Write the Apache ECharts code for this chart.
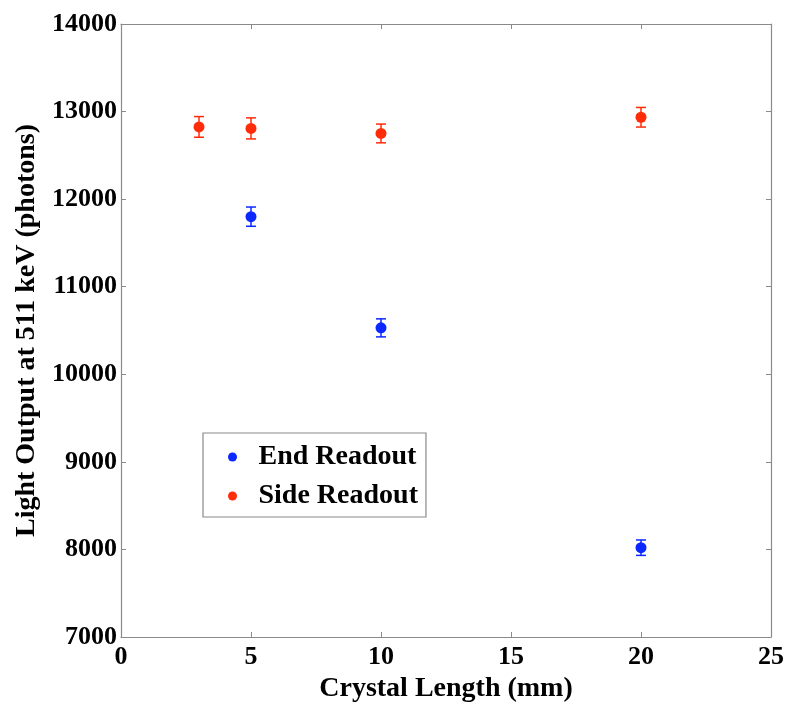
<!DOCTYPE html>
<html>
<head>
<meta charset="utf-8">
<title>Light Output</title>
<script src="https://cdn.jsdelivr.net/npm/echarts@6/dist/echarts.min.js"></script>
<style>
html, body { margin: 0; padding: 0; background: #fff; }
#chart { width: 800px; height: 715px; }
</style>
</head>
<body>
<div id="chart"></div>
<script>
// crystal length (mm)
const endLength = [5, 10, 20];
const endLight = [11800, 10530, 8020];
const endErr = [110, 103, 88];

const sideLength = [3, 5, 10, 20];
const sideLight = [12825, 12808, 12750, 12935];
const sideErr = [118, 120, 107, 112];

const BLUE = '#0a28ff';
const RED = '#ff2c0a';
const FONT = '"Liberation Serif", "Times New Roman", serif';

function pts(xs, ys) {
	return xs.map((x, i) => [x, ys[i]]);
}
function bars(xs, ys, es) {
	return xs.map((x, i) => [x, ys[i] - es[i], ys[i] + es[i]]);
}

// error bar with caps
function errorBar(color) {
	return function (params, api) {
		let x = api.value(0);
		let lo = api.coord([x, api.value(1)]);
		let hi = api.coord([x, api.value(2)]);
		let w = 5;
		let style = { stroke: color, lineWidth: 1.5 };
		return {
			type: 'group',
			children: [
				{ type: 'line', shape: { x1: lo[0], y1: lo[1], x2: hi[0], y2: hi[1] }, style: style },
				{ type: 'line', shape: { x1: lo[0] - w, y1: lo[1], x2: lo[0] + w, y2: lo[1] }, style: style },
				{ type: 'line', shape: { x1: hi[0] - w, y1: hi[1], x2: hi[0] + w, y2: hi[1] }, style: style }
			]
		};
	};
}

const chart = echarts.init(document.getElementById('chart'));

const axisCommon = {
	type: 'value',
	axisLine: { show: true, onZero: false, lineStyle: { color: '#8a8a8a', width: 1.2 } },
	axisTick: { show: true, inside: true, length: 5, lineStyle: { color: '#8a8a8a' } },
	splitLine: { show: false }
};
const tickFont = { fontFamily: FONT, fontWeight: 'bold', fontSize: 26, color: '#000' };
const nameFont = { fontFamily: FONT, fontWeight: 'bold', fontSize: 28, color: '#000' };

const option = {
	animation: false,
	backgroundColor: '#fff',
	grid: { left: 121, right: 29, top: 24, bottom: 78 },
	legend: {
		orient: 'vertical',
		left: 203,
		top: 433,
		data: ['End Readout', 'Side Readout'],
		icon: 'circle',
		itemWidth: 42,
		itemHeight: 9,
		itemGap: 11,
		padding: [10, 8, 7, 25],
		borderColor: '#8a8a8a',
		borderWidth: 1.2,
		backgroundColor: '#fff',
		textStyle: nameFont
	},
	xAxis: [
		Object.assign({}, axisCommon, {
			min: 0, max: 25, interval: 5,
			position: 'bottom',
			name: 'Crystal Length (mm)',
			nameLocation: 'middle',
			nameGap: 30,
			nameTextStyle: nameFont,
			axisLabel: Object.assign({ margin: 7 }, tickFont)
		}),
		Object.assign({}, axisCommon, {
			min: 0, max: 25, interval: 5,
			position: 'top',
			axisLabel: { show: false }
		})
	],
	yAxis: [
		Object.assign({}, axisCommon, {
			min: 7000, max: 14000, interval: 1000,
			position: 'left',
			name: 'Light Output at 511 keV (photons)',
			nameLocation: 'middle',
			nameGap: 78,
			nameTextStyle: nameFont,
			axisLabel: Object.assign({ margin: 4, formatter: (v) => String(v) }, tickFont)
		}),
		Object.assign({}, axisCommon, {
			min: 7000, max: 14000, interval: 1000,
			position: 'right',
			axisLabel: { show: false }
		})
	],
	series: [
		{
			name: 'End Readout err',
			type: 'custom',
			renderItem: errorBar(BLUE),
			encode: { x: 0, y: [1, 2] },
			data: bars(endLength, endLight, endErr),
			z: 2
		},
		{
			name: 'Side Readout err',
			type: 'custom',
			renderItem: errorBar(RED),
			encode: { x: 0, y: [1, 2] },
			data: bars(sideLength, sideLight, sideErr),
			z: 2
		},
		{
			name: 'End Readout',
			type: 'scatter',
			symbol: 'circle',
			symbolSize: 11,
			itemStyle: { color: BLUE, opacity: 1 },
			data: pts(endLength, endLight),
			z: 3
		},
		{
			name: 'Side Readout',
			type: 'scatter',
			symbol: 'circle',
			symbolSize: 11,
			itemStyle: { color: RED, opacity: 1 },
			data: pts(sideLength, sideLight),
			z: 3
		}
	]
};

chart.setOption(option);
window.addEventListener('resize', () => {
	chart.resize();
});
</script>
</body>
</html>
